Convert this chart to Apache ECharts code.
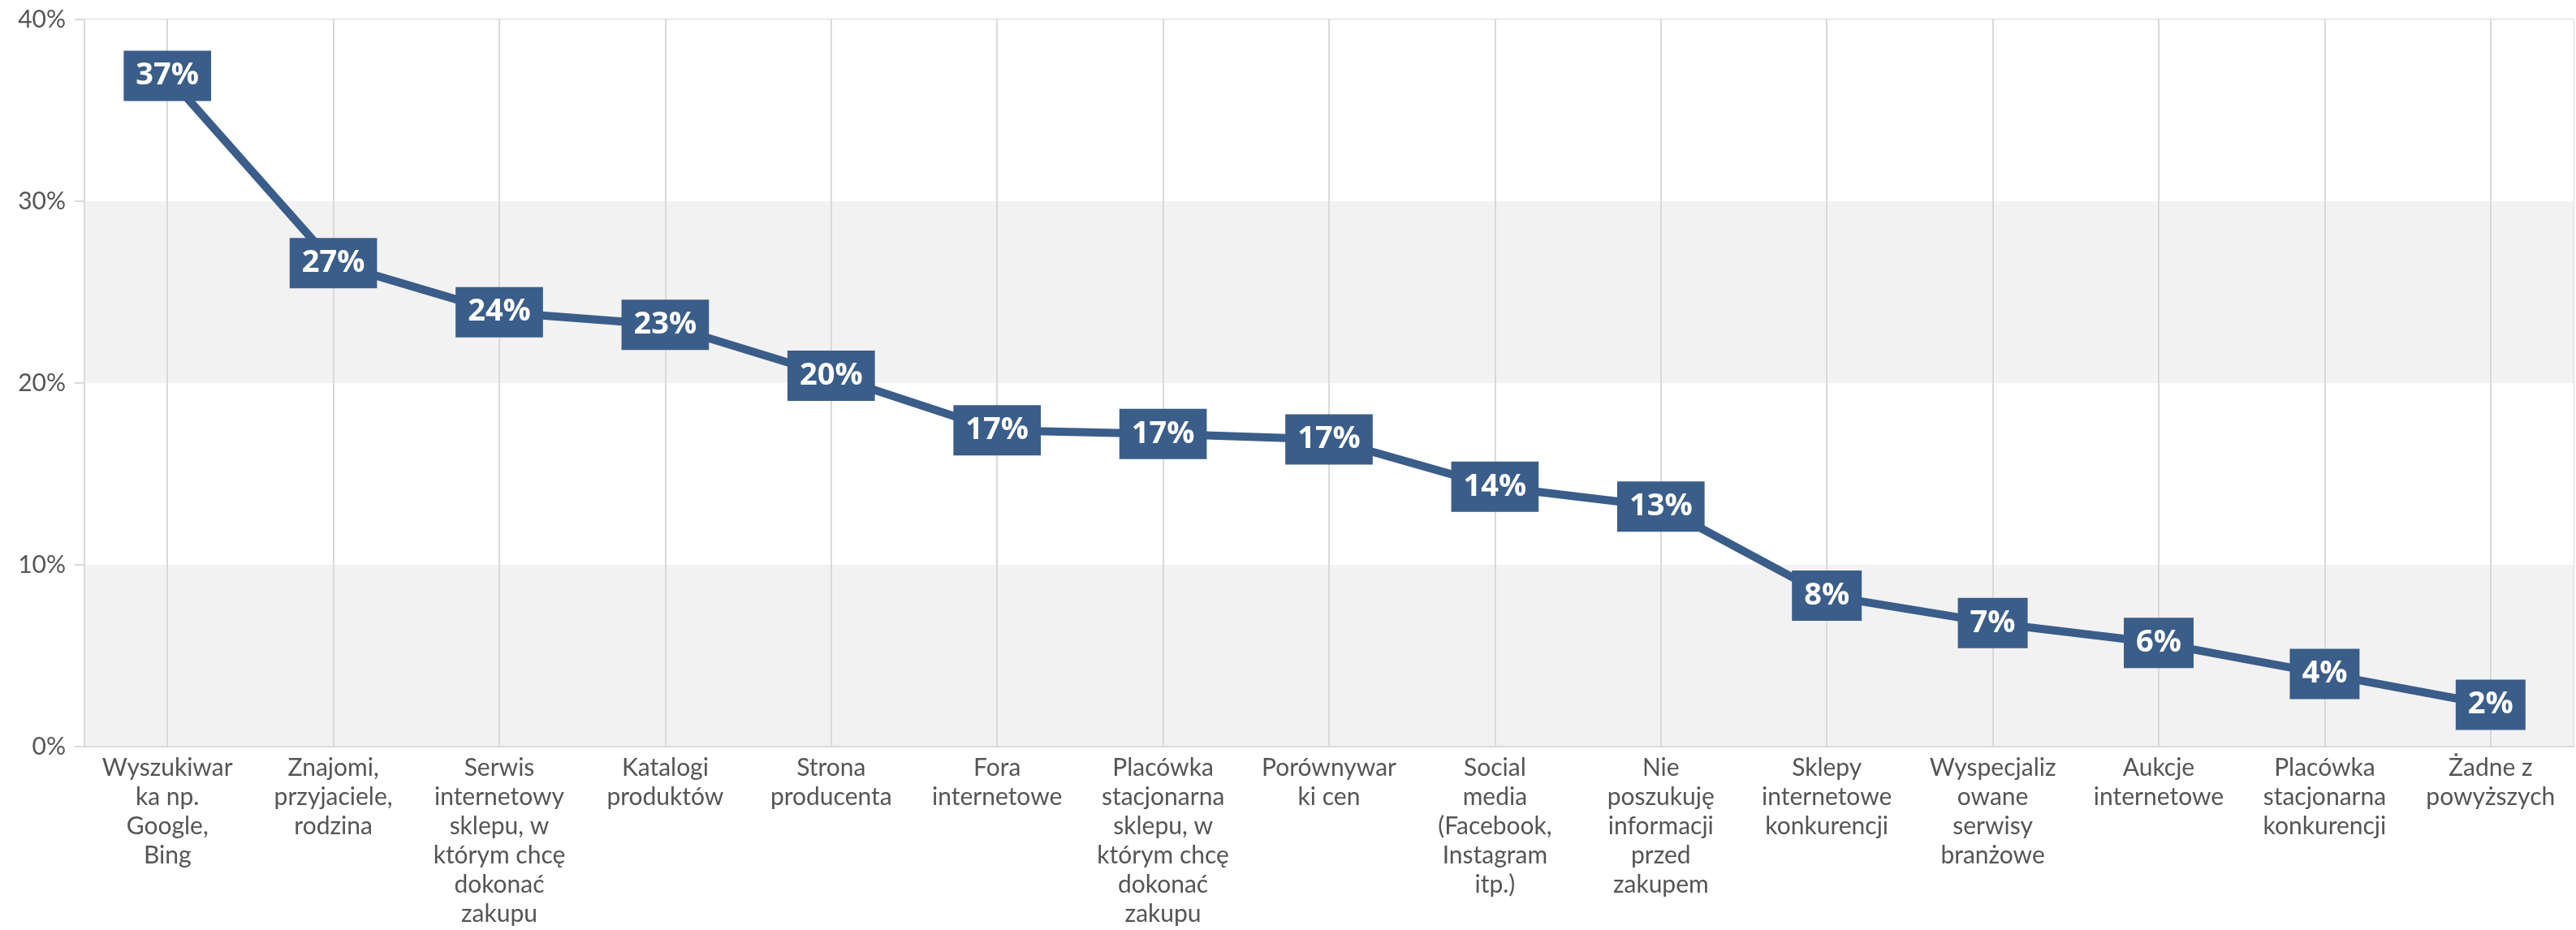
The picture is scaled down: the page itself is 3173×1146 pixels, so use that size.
<!DOCTYPE html>
<html>
<head>
<meta charset="utf-8">
<script src="https://cdn.jsdelivr.net/npm/echarts@6/dist/echarts.min.js"></script>
<style>
  html, body { margin: 0; padding: 0; background: #fff; }
  #chart { width: 3173px; height: 1146px; }
</style>
</head>
<body>
<div id="chart"></div>
<script>
// kategorie (z łamaniem linii jak w oryginale)
var categories = [
  'Wyszukiwar\nka np.\nGoogle,\nBing',
  'Znajomi,\nprzyjaciele,\nrodzina',
  'Serwis\ninternetowy\nsklepu, w\nktórym chcę\ndokonać\nzakupu',
  'Katalogi\nproduktów',
  'Strona\nproducenta',
  'Fora\ninternetowe',
  'Placówka\nstacjonarna\nsklepu, w\nktórym chcę\ndokonać\nzakupu',
  'Porównywar\nki cen',
  'Social\nmedia\n(Facebook,\nInstagram\nitp.)',
  'Nie\nposzukuję\ninformacji\nprzed\nzakupem',
  'Sklepy\ninternetowe\nkonkurencji',
  'Wyspecjaliz\nowane\nserwisy\nbranżowe',
  'Aukcje\ninternetowe',
  'Placówka\nstacjonarna\nkonkurencji',
  'Żadne z\npowyższych'
]
// udział odpowiedzi w %
var shares = [36.9, 26.6, 23.9, 23.2, 20.4, 17.4, 17.2, 16.9, 14.3, 13.2, 8.3, 6.8, 5.7, 4.0, 2.3]
var yTicks = [0, 10, 20, 30, 40]

var mainColor = '#3b5d89'
var gridGray = '#d9d9d9'
var textGray = '#555555'

var chart = echarts.init(document.getElementById('chart'))
chart.setOption({
  animation: false,
  grid: {
    left: 104,
    right: 3,
    top: 24,
    bottom: 226,
    show: true,
    borderColor: gridGray,
    borderWidth: 2
  },
  xAxis: {
    type: 'category',
    data: categories,
    boundaryGap: true,
    axisLine: { lineStyle: { color: gridGray, width: 2 } },
    axisTick: { alignWithLabel: true, length: 16, lineStyle: { color: gridGray, width: 2 } },
    splitLine: { show: true, alignWithLabel: true, lineStyle: { color: gridGray, width: 2 } },
    axisLabel: {
      interval: 0,
      margin: 8,
      color: textGray,
      fontFamily: 'Lato',
      fontSize: 30,
      lineHeight: 36,
      align: 'center'
    }
  },
  yAxis: {
    type: 'value',
    min: yTicks[0],
    max: yTicks[yTicks.length - 1],
    interval: 10,
    axisLine: { show: true, lineStyle: { color: gridGray, width: 2 } },
    axisTick: { show: true, length: 12, lineStyle: { color: gridGray, width: 2 } },
    splitLine: { show: false },
    splitArea: { show: true, areaStyle: { color: ['#f2f2f2', '#ffffff'] } },
    axisLabel: {
      margin: 23,
      color: textGray,
      fontFamily: 'Lato',
      fontSize: 30,
      formatter: function (v) { return v + '%' }
    }
  },
  series: [{
    type: 'line',
    data: shares,
    symbol: 'circle',
    symbolSize: 1,
    itemStyle: { color: mainColor },
    lineStyle: { color: mainColor, width: 10 },
    label: {
      show: true,
      position: 'inside',
      formatter: function (p) { return Math.round(p.value) + '%' },
      backgroundColor: mainColor,
      color: '#ffffff',
      fontFamily: 'Open Sans',
      fontWeight: 'bold',
      fontSize: 38,
      lineHeight: 42,
      padding: [10, 15]
    }
  }]
})
</script>
</body>
</html>
